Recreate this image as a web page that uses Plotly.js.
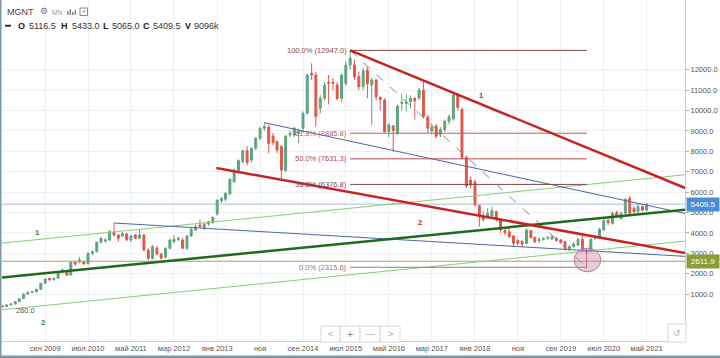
<!DOCTYPE html>
<html><head><meta charset="utf-8">
<script src="https://cdn.plot.ly/plotly-3.0.1.min.js"></script>
<style>html,body{margin:0;padding:0;background:#fff}#chart{width:720px;height:358px}</style>
</head><body><div id="chart"></div>
<script>
// ---- data (monthly MGNT, first bar = Nov 2008) ----
const firstYear = 2008, firstMonthIndex = 10; // November
const opens = [430,384,466,515,629,776,1005,1087,1110,1234,1528,1773,1700,1773,2080,2120,1940,2574,2574,2574,
2490,2999,3080,3538,3600,3650,4020,3897,3850,3950,3652,3897,3734,3897,3162,2753,3250,2966,2802,3243,
3570,3685,3652,3243,3848,4142,4387,4250,4436,4502,4927,5580,5646,5907,6511,7050,7492,8031,7574,8145,
8636,9126,9175,8750,8472,8227,7050,8799,8799,8880,9126,9861,11822,11740,10106,10597,11381,11381,11250,10597,
11332,12230,12230,11658,11168,11985,11250,11495,10640,10510,8963,9240,8882,10343,10350,10430,10597,10613,10990,9676,
9000,9226,8815,9060,9470,9600,10760,10060,7700,6593,6500,5335,4797,4797,4828,5041,4666,4110,4062,3849,
3620,3571,3489,4110,3784,3620,3685,3734,3718,3734,3653,3571,3227,3325,3407,3685,3129,3129,3734,3784,
4143,4600,4469,4992,4714,4959,5700,5204,5041,5286,5116.5];
const highs = [470,520,540,650,800,1030,1120,1150,1260,1550,1760,1800,1800,2080,2280,2200,2600,2620,2830,2620,
3050,3150,3560,3800,3750,4150,4485,3950,4050,4000,3900,3950,4142,3950,3250,3400,3350,3000,3300,3700,
3897,3800,3750,3900,4250,4400,4665,4500,4600,4800,5650,5750,6000,6700,7150,7600,8100,8250,8200,8700,
9208,9403,9300,8900,8550,8300,8800,9000,9200,9100,9950,11800,12312,11900,10760,11400,11740,11600,11400,11800,
12400,12947,12500,11900,12100,12150,11600,11550,10700,10600,9400,9300,10300,10843,10800,10750,10650,11100,11460,9800,
9300,9350,9200,9550,9800,10850,10850,10150,7800,6757,6600,5400,5041,5204,5286,5100,4700,4200,4224,3900,
3700,3650,4200,4150,3800,3784,3780,3820,3898,3780,3700,3600,3400,3571,3750,3900,3250,3750,3898,4250,
4700,4700,5050,5100,5050,5700,5800,5300,5482,5350,5433];
const lows = [340,370,440,500,600,760,990,1050,1090,1220,1500,1650,1680,1750,2030,1900,1920,2400,2500,2450,
2450,2900,3050,3500,3500,3600,3800,3570,3780,3600,3550,3700,3700,3100,2650,2700,2900,2700,2750,3200,
3500,3600,3200,3150,3800,4100,4250,4150,4350,4450,4850,5450,5550,5850,6450,6900,7400,7300,7450,8050,
8550,9000,7901,8300,7901,6675,7000,8700,8700,8400,8900,9800,11500,9208,9861,10500,10300,11000,10500,10400,
11200,12000,11500,11000,11000,10600,9300,10500,10000,8900,8700,7982,8800,10000,9950,10100,9550,10500,9600,8900,
8850,8650,8700,8950,9300,9500,10000,7600,6200,6185,5300,4306,4551,4700,4750,4551,4000,3900,3750,3358,
3400,3325,3450,3700,3500,3489,3620,3680,3653,3580,3480,3129,3150,3280,3350,3050,2315.6,3050,3650,3700,
4100,4400,4400,4750,4650,4900,4900,4950,4950,5050,5065];
const closes = [384,466,515,629,776,1005,1087,1110,1234,1528,1740,1700,1773,2050,2181,1930,2574,2470,2672,2480,
2999,3080,3538,3734,3652,4060,3897,3734,3960,3660,3848,3734,3897,3162,2753,3325,2966,2753,3243,3652,
3685,3734,3243,3848,4175,4306,4306,4436,4551,4763,5613,5695,5940,6626,7083,7541,8031,7450,8145,8636,
9126,9208,8391,8423,8064,7083,8750,8881,9126,8960,9861,11740,11740,9698,10597,11250,11340,11330,10597,11740,
12230,12557,11658,11168,11953,11300,11500,10679,10540,8963,9289,9012,10212,10408,10420,10597,10480,11005,9714,9137,
9175,8734,9062,9470,9700,10760,10150,7700,6300,6350,5368,4797,4666,4959,5090,4666,4143,4012,3816,3489,
3489,3457,4143,3784,3571,3685,3734,3784,3816,3620,3522,3243,3325,3457,3685,3129,3050,3685,3784,4175,
4600,4502,4959,4828,4959,5645,4959,5041,5286,5116.5,5409.5];

const tickDates = ['2009-09-01','2010-07-01','2011-05-01','2012-03-01','2013-01-01','2013-11-01','2014-09-01',
'2015-07-01','2016-05-01','2017-03-01','2018-01-01','2018-11-01','2019-09-01','2020-07-01','2021-05-01'];
const tickText = ['сен 2009','июл 2010','май 2011','мар 2012','янв 2013','ноя','сен 2014','июл 2015',
'май 2016','мар 2017','янв 2018','ноя','сен 2019','июл 2020','май 2021'];
const priceTicks = [1000,2000,3000,4000,5000,6000,7000,8000,9000,10000,11000,12000];

// drawings: [monthIndex, price]
const trend1 = [[81,12947],[158.9,6200]];
const trend2 = [[49.8,7181],[158.9,3015]];
const supportGreen = [[-0.5,1810],[158.9,5130]];
const channelUpper = [[-0.5,3490],[158.9,6850]];
const channelLower = [[-0.5,220],[158.9,3600]];
const blueUpper = [[61,9403],[158.9,4950]];
const blueLower = [[26,4485],[158.9,2850]];
const fibStart = 81, fibEnd = 136.1;
const fibLevels = [12947.0, 8885.8, 7631.3, 6376.8, 2315.6];
const fibLabels = ['100.0% (12947.0)','61.8% (8885.8)','50.0% (7631.3)','38.2% (6376.8)','0.0% (2315.6)'];
const lastPrice = 5409.5, markPrice = 2611.9;
const circleBox = [[133.1,2094],[139.3,3250]];

// ---- helpers ----
function md(f){
  const m = Math.floor(f), fr = f - m;
  const a = Date.UTC(firstYear, firstMonthIndex + m, 1), b = Date.UTC(firstYear, firstMonthIndex + m + 1, 1);
  return new Date(a + fr*(b-a)).toISOString().slice(0,19).replace('T',' ');
}
const months = opens.map((_, i) => md(i));

const W=720,H=358,L=2,R=35,T=0,B=17;
const PW=W-L-R, PH=H-T-B;
const px = x => (x-L)/PW;
const py = y => (H-B-y)/PH;

const UP='#5fa47f', DOWN='#e0584a';
const FONT='Liberation Sans, Arial, sans-serif';

const trace = {
  type:'candlestick', x:months, open:opens, high:highs, low:lows, close:closes,
  increasing:{line:{color:UP,width:1},fillcolor:UP},
  decreasing:{line:{color:DOWN,width:1},fillcolor:DOWN},
  whiskerwidth:0, hoverinfo:'skip', showlegend:false
};

function seg(p, color, width, dash){
  return {type:'line', xref:'x', yref:'y', x0:md(p[0][0]), y0:p[0][1], x1:md(p[1][0]), y1:p[1][1],
    line:{color:color, width:width, dash:dash||'solid'}, layer:'above'};
}
const xLeft = md(-0.5), xRight = md(160);
const shapes = [
  {type:'line', xref:'x', yref:'y', x0:xLeft, x1:xRight, y0:lastPrice, y1:lastPrice, line:{color:'rgba(130,165,200,0.7)', width:1}},
  {type:'line', xref:'x', yref:'y', x0:xLeft, x1:xRight, y0:markPrice, y1:markPrice, line:{color:'#a3a35a', width:1}},
  seg(channelUpper,'#86cc78',1),
  seg(channelLower,'#86cc78',1),
  seg(blueUpper,'#5a5fa8',1),
  seg(blueLower,'#4f66a8',1),
];
const fibColors = ['#8e4545','#c45a5a','#b04c4c','#7d4848','#9a7585'];
fibLevels.forEach((v,i)=>shapes.push({type:'line', xref:'x', yref:'y', x0:md(fibStart), x1:md(fibEnd), y0:v, y1:v, line:{color:fibColors[i], width:1}}));
shapes.push({type:'line', xref:'x', yref:'y', x0:md(fibStart), y0:fibLevels[0], x1:md(fibEnd), y1:fibLevels[4], line:{color:'#8a8a8a', width:1, dash:'dash'}});
shapes.push(seg(supportGreen,'#1e6a1e',2.5));
shapes.push(seg(trend1,'#c62424',2.5));
shapes.push(seg(trend2,'#c62424',2.5));
shapes.push({type:'circle', xref:'x', yref:'y', x0:md(circleBox[0][0]), y0:circleBox[0][1], x1:md(circleBox[1][0]), y1:circleBox[1][1],
  fillcolor:'rgba(196,130,170,0.42)', line:{color:'#b87aa0', width:1}});

// paper-level decorations: frame, nav buttons, header icons
function rect(x0,y0,x1,y1,fill,line,lw){return {type:'rect', xref:'paper', yref:'paper', x0:px(x0), x1:px(x1), y0:py(y1), y1:py(y0), fillcolor:fill, line:{color:line, width:lw===undefined?1:lw}, layer:'above'};}
shapes.push(rect(321,326,340,342,'#fff','#d8d8d8'));
shapes.push(rect(340,326,360,342,'#fff','#d8d8d8'));
shapes.push(rect(360,326,380,342,'#fff','#d8d8d8'));
shapes.push(rect(380,326,400,342,'#fff','#d8d8d8'));
shapes.push(rect(668,324,686,342,'#fff','#d8d8d8'));
shapes.push(rect(0,0,1.5,358,'#7e96a8','#7e96a8',0));
shapes.push(rect(0,355.5,720,358,'#7e96a8','#7e96a8',0));
// header icons
shapes.push(rect(67,11,68.5,15,'#888','#888',0));
shapes.push(rect(69.5,9,71,15,'#888','#888',0));
shapes.push(rect(72,12,73.5,15,'#888','#888',0));
shapes.push(rect(74.5,10,76,15,'#888','#888',0));
shapes.push(rect(80,8,87.5,15.5,'rgba(0,0,0,0)','#888',1));
shapes.push(rect(5,24.8,11,26.6,'#222','#222',0));

function ann(text,x,y,opt){
  return Object.assign({text:text, xref:'paper', yref:'paper', x:px(x), y:py(y), xanchor:'left', yanchor:'middle',
    showarrow:false, font:{family:FONT, size:9, color:'#333'}}, opt||{});
}
const annotations = [
  ann('MGNT',5,12,{font:{family:FONT,size:9,color:'#444'}}),
  ann('⚙',38,11.5,{font:{family:'DejaVu Sans',size:9,color:'#777'}}),
  ann('MN',50,13,{font:{family:FONT,size:6.5,color:'#999'}}),
  ann('+',80.3,11.5,{font:{family:FONT,size:7,color:'#888'}}),
  ann('<b>O</b>',16,26,{font:{family:FONT,size:9,color:'#222'}}),
  ann('5116.5',27,26),
  ann('<b>H</b>',58.5,26,{font:{family:FONT,size:9,color:'#222'}}),
  ann('5433.0',69.5,26),
  ann('<b>L</b>',101,26,{font:{family:FONT,size:9,color:'#222'}}),
  ann('5065.0',109.5,26),
  ann('<b>C</b>',141,26,{font:{family:FONT,size:9,color:'#222'}}),
  ann('5409.5',151,26),
  ann('<b>V</b>',182.5,26,{font:{family:FONT,size:9,color:'#222'}}),
  ann('9096k',191.5,26),
  // nav button glyphs
  ann('<',330.5,334,{xanchor:'center',font:{family:FONT,size:9,color:'#aaa'}}),
  ann('+',350,334,{xanchor:'center',font:{family:FONT,size:11,color:'#888'}}),
  ann('—',370,334,{xanchor:'center',font:{family:FONT,size:9,color:'#999'}}),
  ann('>',390,334,{xanchor:'center',font:{family:FONT,size:9,color:'#aaa'}}),
  ann('↺',677,333,{xanchor:'center',font:{family:'DejaVu Sans',size:9,color:'#aaa'}}),
  // drawing labels (data coords)
  {text:'<b>1</b>', xref:'x', yref:'y', x:md(111.5), y:10760, showarrow:false, font:{family:FONT,size:7.5,color:'#c62424'}},
  {text:'<b>2</b>', xref:'x', yref:'y', x:md(97.3), y:4534, showarrow:false, font:{family:FONT,size:7.5,color:'#c62424'}},
  {text:'<b>1</b>', xref:'x', yref:'y', x:md(8.2), y:4044, showarrow:false, font:{family:FONT,size:7.5,color:'#2e8b2e'}},
  {text:'<b>2</b>', xref:'x', yref:'y', x:md(9.4), y:-368, showarrow:false, font:{family:FONT,size:7.5,color:'#2e8b2e'}},
  {text:'260.0', xref:'x', yref:'y', x:md(2.6), y:220, xanchor:'left', showarrow:false, font:{family:FONT,size:7.5,color:'#555'}},
  // right price labels
  {text:'5409.5', xref:'paper', yref:'y', x:px(686), y:lastPrice, xanchor:'left', yanchor:'middle', showarrow:false,
    bgcolor:'#4a8fd6', width:30, height:11, borderpad:1, font:{family:FONT,size:8,color:'#fff'}},
  {text:'2611.9', xref:'paper', yref:'y', x:px(686), y:markPrice, xanchor:'left', yanchor:'middle', showarrow:false,
    bgcolor:'#8a9c3c', width:30, height:11, borderpad:1, font:{family:FONT,size:8,color:'#fff'}},
];
fibLevels.forEach((v,i)=>annotations.push({text:fibLabels[i], xref:'x', yref:'y', x:md(fibStart-0.2), y:v, xanchor:'right', yanchor:'middle',
  showarrow:false, font:{family:FONT,size:7.5,color:fibColors[i]}}));

const layout = {
  width:W, height:H, margin:{l:L,r:R,t:T,b:B,pad:0},
  paper_bgcolor:'#fff', plot_bgcolor:'#fff', showlegend:false, dragmode:false,
  xaxis:{type:'date', range:[md(-0.07), md(158.86)], rangeslider:{visible:false},
    tickvals:tickDates, ticktext:tickText, showgrid:true, gridcolor:'#eef0f3', gridwidth:1,
    showline:true, linecolor:'#d0d0d0', linewidth:1, ticks:'', zeroline:false,
    tickfont:{family:FONT,size:7.5,color:'#555'}, fixedrange:true},
  yaxis:{side:'right', range:[-1299, 15417], tickvals:priceTicks, tickformat:'.1f',
    showgrid:true, gridcolor:'#eef0f3', gridwidth:1, zeroline:false,
    showline:true, linecolor:'#d0d0d0', linewidth:1, ticks:'outside', ticklen:3, tickcolor:'#aaa',
    tickfont:{family:FONT,size:7.5,color:'#555'}, fixedrange:true},
  shapes:shapes, annotations:annotations
};
Plotly.newPlot('chart',[trace],layout,{displayModeBar:false, staticPlot:true});
</script></body></html>
